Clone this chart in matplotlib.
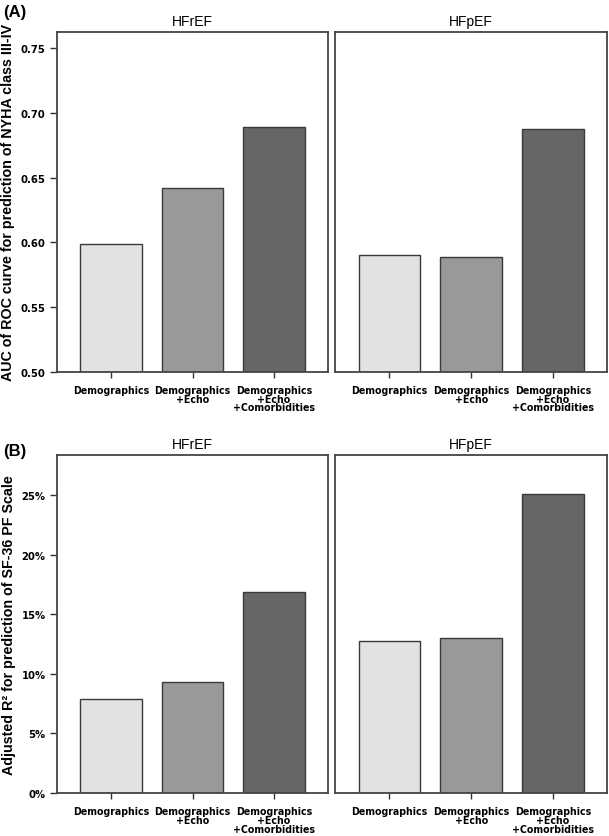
import matplotlib
matplotlib.use("Agg")
import matplotlib.pyplot as plt
from matplotlib.ticker import FuncFormatter

categories = ["Demographics", "Demographics\n+Echo", "Demographics\n+Echo\n+Comorbidities"]
groups = ["HFrEF", "HFpEF"]
auc_hfref = [0.599, 0.642, 0.689]
auc_hfpef = [0.590, 0.589, 0.688]
r2_hfref = [7.9, 9.3, 16.9]
r2_hfpef = [12.8, 13.0, 25.1]
auc_ticks = [0.50, 0.55, 0.60, 0.65, 0.70, 0.75]
r2_ticks = [0, 5, 10, 15, 20, 25]
bar_colors = ["#e2e2e2", "#999999", "#666666"]

narrow = ["DejaVu Sans", "Liberation Sans"]
sans = ["Liberation Sans", "DejaVu Sans"]

fig = plt.figure(figsize=(6.09, 8.37), dpi=100)
W, H = 609, 837

def ax_at(x0, y0, x1, y1):
    return fig.add_axes([x0 / W, 1 - y1 / H, (x1 - x0) / W, (y1 - y0) / H])

rows = [
    dict(top=32.5, bot=372.7, data=[auc_hfref, auc_hfpef], ylim=(0.50, 0.763),
         ticks=auc_ticks, fmt=lambda v, p: f"{v:.2f}", bottom=0.50,
         ylabel="AUC of ROC curve for prediction of NYHA class III-IV", tag="(A)", tagy=12),
    dict(top=456, bot=794, data=[r2_hfref, r2_hfpef], ylim=(0, 28.4),
         ticks=r2_ticks, fmt=lambda v, p: f"{v:.0f}%", bottom=0,
         ylabel="Adjusted R\u00b2 for prediction of SF-36 PF Scale", tag="(B)", tagy=452),
]
cols = [(56.7, 328.3), (335.0, 607.3)]
x = list(range(len(categories)))

for r in rows:
    for ci, (x0, x1) in enumerate(cols):
        ax = ax_at(x0, r["top"], x1, r["bot"])
        vals = r["data"][ci]
        heights = [v - r["bottom"] for v in vals]
        ax.bar(x, heights, bottom=r["bottom"], width=0.75, color=bar_colors,
               edgecolor="#3a3a3a", linewidth=1.0, zorder=2)
        ax.set_xlim(-0.665, 2.665)
        ax.set_ylim(*r["ylim"])
        ax.set_xticks(x)
        ax.set_xticklabels(categories, fontsize=7.6, fontweight="bold", family=narrow,
                           fontstretch="condensed", linespacing=0.85)
        ax.tick_params(axis="x", length=4.5, width=1, color="#333333", pad=5)
        for s in ax.spines.values():
            s.set_color("#444444")
            s.set_linewidth(1.3)
        ax.set_title(groups[ci], fontsize=10, family=sans, pad=5)
        if ci == 0:
            ax.set_yticks(r["ticks"])
            ax.yaxis.set_major_formatter(FuncFormatter(r["fmt"]))
            for lab in ax.get_yticklabels():
                lab.set_fontweight("bold")
                lab.set_family(narrow)
                lab.set_fontstretch("condensed")
                lab.set_fontsize(8)
            ax.tick_params(axis="y", length=5, width=1, color="#333333", pad=3)
            ax.set_ylabel(r["ylabel"], fontsize=10.3, fontweight="bold", family=sans, labelpad=4)
        else:
            ax.set_yticks([])
    fig.text(3 / W, 1 - r["tagy"] / H, r["tag"], fontsize=12, fontweight="bold",
             family=sans, va="center", ha="left")

fig.savefig("out.png", dpi=100)
